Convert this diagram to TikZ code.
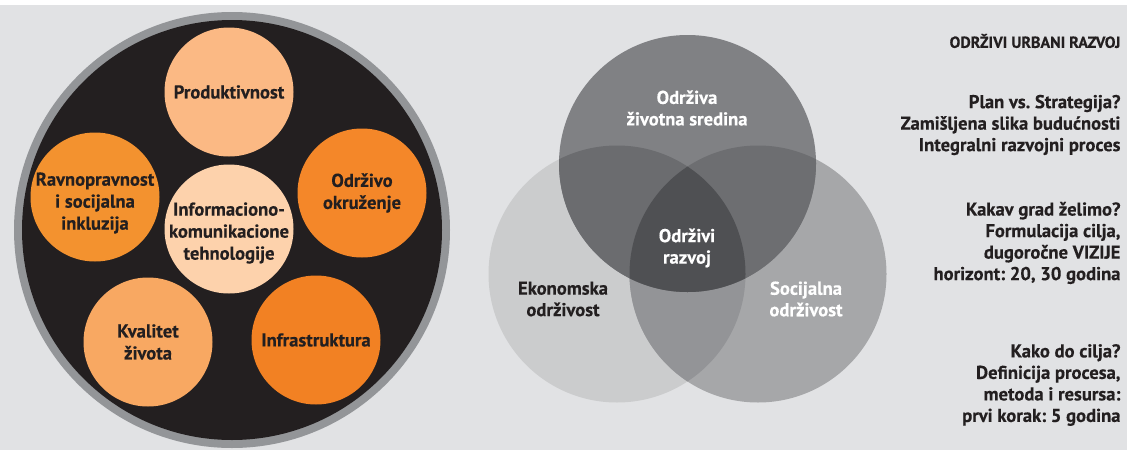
\documentclass[tikz,border=0pt]{standalone}
\usepackage{fontspec}
\setmainfont{PT Sans}[BoldFeatures={FakeBold=0.4}]
\frenchspacing
\definecolor{bg}{HTML}{E1E2E4}
\definecolor{ring}{HTML}{939598}
\definecolor{dark}{HTML}{231F20}
\definecolor{cprod}{HTML}{FBB984}
\definecolor{cravn}{HTML}{F3922F}
\definecolor{cinfo}{HTML}{FDD2AC}
\definecolor{codrz}{HTML}{F48729}
\definecolor{ckval}{HTML}{F8A862}
\definecolor{cinfra}{HTML}{F28123}
\definecolor{vtop}{HTML}{808184}
\definecolor{vleft}{HTML}{CBCCCD}
\definecolor{vright}{HTML}{A6A7A9}
\definecolor{vtl}{HTML}{6B6C6F}
\definecolor{vtr}{HTML}{6D6E71}
\definecolor{vlr}{HTML}{939497}
\definecolor{vall}{HTML}{4F5053}
\tikzset{
  ball/.style={circle, minimum size=129pt, inner sep=0pt, align=center, text=dark,
    font=\fontsize{18.6}{22}\selectfont\bfseries},
  btext/.style={inner sep=0pt, align=center, text=dark,
    font=\fontsize{18.6}{22}\selectfont\bfseries},
  vlabel/.style={align=center, font=\fontsize{18.6}{21.5}\selectfont\bfseries},
  rtext/.style={align=right, anchor=east, text=dark, font=\fontsize{18.6}{21.5}\selectfont\bfseries},
}
\begin{document}
\begin{tikzpicture}[x=1pt,y=-1pt]
\useasboundingbox (0,0) rectangle (1127,450);
\fill[white] (0,0) rectangle (1127,450);
\fill[bg] (0,5) rectangle (1127,450);
\begin{scope}
\clip (0,5) rectangle (1127,450);
\fill[ring] (232,230) circle[radius=218];
\fill[dark] (232,230) circle[radius=210];
\end{scope}
% six balls
\node[ball, fill=cprod]  (prod)  at (229,92)  {Produktivnost};
\node[ball, fill=cravn]  (ravn)  at (95,197)  {};
\node[btext] (ravnT) at ([yshift=-6pt]ravn.center) {Ravnopravnost\\i socijalna\\inkluzija};
\node[ball, fill=cinfo]  (info)  at (229,229) {};
\node[btext] (infoT) at ([yshift=-4pt]info.center) {Informaciono-\\komunikacione\\tehnologije};
\node[ball, fill=codrz]  (odrz)  at (362,193) {Održivo\\okruženje};
\node[ball, fill=ckval]  (kval)  at (148,342) {Kvalitet\\života};
\node[ball, fill=cinfra] (infra) at (316,340) {Infrastruktura};
% Venn
\coordinate (ct) at (687.5,163.5);
\coordinate (cl) at (617,274);
\coordinate (cr) at (758,274);
\def\vr{128.5}
\fill[vleft]  (cl) circle[radius=\vr];
\fill[vright] (cr) circle[radius=\vr];
\fill[vtop]   (ct) circle[radius=\vr];
\begin{scope}
\clip (cl) circle[radius=\vr];
\fill[vlr] (cr) circle[radius=\vr];
\fill[vtl] (ct) circle[radius=\vr];
\end{scope}
\begin{scope}
\clip (cr) circle[radius=\vr];
\fill[vtr] (ct) circle[radius=\vr];
\clip (cl) circle[radius=\vr];
\fill[vall] (ct) circle[radius=\vr];
\end{scope}
\node[vlabel, text=white] (tl) at (687,108) {Održiva\\životna sredina};
\node[vlabel, text=white] (cl2) at (687,248) {Održivi\\razvoj};
\node[vlabel, text=dark] (ll) at (563,299) {Ekonomska\\održivost};
\node[vlabel, text=white] (rl) at (806,299) {Socijalna\\održivost};
% right text
\node[rtext, font=\fontsize{16}{18}\selectfont\bfseries] (title) at (1124,41) {ODRŽIVI URBANI RAZVOJ};
\node[rtext] (g1) at (1124,125) {Plan vs. Strategija?\\Zamišljena slika budućnosti\\Integralni razvojni proces};
\node[rtext] (g2) at (1124,243) {Kakav grad želimo?\\Formulacija cilja,\\dugoročne VIZIJE\\horizont: 20, 30 godina};
\node[rtext] (g3) at (1124,385) {Kako do cilja?\\Definicija procesa,\\metoda i resursa:\\prvi korak: 5 godina};
\end{tikzpicture}
\end{document}
